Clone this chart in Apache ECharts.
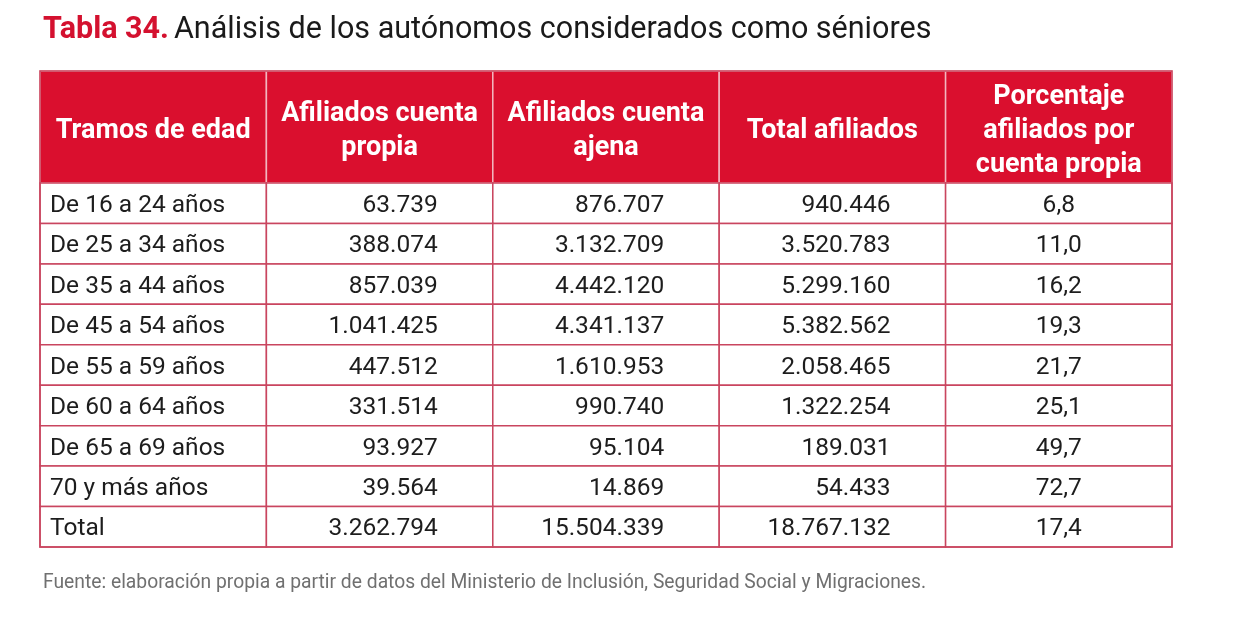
<!DOCTYPE html>
<html>
<head>
<meta charset="utf-8">
<script src="https://cdn.jsdelivr.net/npm/echarts@6/dist/echarts.min.js"></script>
<style>html,body{margin:0;padding:0;background:#fff}#c{width:1242px;height:621px}</style>
</head>
<body>
<div id="c"></div>
<script>
// ---- data ----
const headers = ["Tramos de edad", "Afiliados cuenta\npropia", "Afiliados cuenta\najena", "Total afiliados", "Porcentaje\nafiliados por\ncuenta propia"];
const ageGroups = ["De 16 a 24 años", "De 25 a 34 años", "De 35 a 44 años", "De 45 a 54 años", "De 55 a 59 años", "De 60 a 64 años", "De 65 a 69 años", "70 y más años", "Total"];
const cuentaPropia = [63739, 388074, 857039, 1041425, 447512, 331514, 93927, 39564, 3262794];
const cuentaAjena = [876707, 3132709, 4442120, 4341137, 1610953, 990740, 95104, 14869, 15504339];
const totalAfiliados = [940446, 3520783, 5299160, 5382562, 2058465, 1322254, 189031, 54433, 18767132];
const porcentajePropia = [6.8, 11.0, 16.2, 19.3, 21.7, 25.1, 49.7, 72.7, 17.4];

const titleBold = "Tabla 34.";
const titleRest = "Análisis de los autónomos considerados como séniores";
const sourceText = "Fuente: elaboración propia a partir de datos del Ministerio de Inclusión, Seguridad Social y Migraciones.";

// ---- helpers ----
const fmtInt = n => String(n).replace(/\B(?=(\d{3})+(?!\d))/g, ".");
const fmtPct = n => n.toFixed(1).replace(".", ",");

const HEADER_SPAN = 2.77; // header height measured in body-row units
const RED = "#da0f2e";
const BORDER = "#c9455f";
const FONT = "Roboto, 'DejaVu Sans', sans-serif";

const cells = [];
headers.forEach((h, c) => cells.push({ value: [c, -HEADER_SPAN, 0], text: h, kind: "head" }));
ageGroups.forEach((g, r) => {
  cells.push({ value: [0, r, r + 1], text: g, kind: "label" });
  cells.push({ value: [1, r, r + 1], text: fmtInt(cuentaPropia[r]), kind: "num" });
  cells.push({ value: [2, r, r + 1], text: fmtInt(cuentaAjena[r]), kind: "num" });
  cells.push({ value: [3, r, r + 1], text: fmtInt(totalAfiliados[r]), kind: "num" });
  cells.push({ value: [4, r, r + 1], text: fmtPct(porcentajePropia[r]), kind: "pct" });
});

function renderCell(params, api) {
  const item = cells[params.dataIndex];
  const c = api.value(0), t = api.value(1), b = api.value(2);
  const p0 = api.coord([c, t]);
  const p1 = api.coord([c, b]);
  const w = api.size([1, 0])[0];
  const x0 = p0[0] - w / 2, y0 = p0[1], h = p1[1] - p0[1];
  const head = item.kind === "head";
  let tx, align;
  if (item.kind === "label") { tx = x0 + 10; align = "left"; }
  else if (item.kind === "num") { tx = x0 + w - 55; align = "right"; }
  else { tx = x0 + w / 2; align = "center"; }
  return {
    type: "group",
    children: [
      {
        type: "rect",
        shape: { x: x0, y: y0, width: w, height: h },
        style: { fill: head ? RED : "#fff", stroke: head ? "#f2b6bf" : BORDER, lineWidth: 1.5 }
      },
      {
        type: "text",
        x: tx, y: y0 + h / 2 + (head ? 4 : 2.5),
        style: {
          text: item.text, align: align, verticalAlign: "middle",
          fill: head ? "#fff" : "#1d1d1d",
          fontFamily: FONT, fontWeight: head ? "bold" : "normal",
          fontSize: head ? 27 : 24.5, lineHeight: 34
        }
      }
    ]
  };
}

const chart = echarts.init(document.getElementById("c"), null, { renderer: "canvas" });
chart.setOption({
  backgroundColor: "#fff",
  animation: false,
  title: [
    {
      left: 38, top: 10,
      text: "{a|" + titleBold + "} {b|" + titleRest + "}",
      textStyle: {
        rich: {
          a: { fontFamily: FONT, fontWeight: "bold", fontSize: 30.5, color: "#d4112f" },
          b: { fontFamily: FONT, fontWeight: "normal", fontSize: 30.5, color: "#1a1a1a" }
        }
      }
    },
    {
      left: 38, top: 569,
      text: sourceText,
      textStyle: { fontFamily: FONT, fontWeight: "normal", fontSize: 19.3, color: "#707070" }
    }
  ],
  grid: { left: 40, right: 70, top: 71, bottom: 74 },
  xAxis: { type: "category", data: headers.map((_, i) => i), show: false, boundaryGap: true },
  yAxis: { type: "value", inverse: true, min: -HEADER_SPAN, max: ageGroups.length, show: false },
  series: [
    {
      type: "custom",
      renderItem: renderCell,
      encode: { x: 0, y: [1, 2] },
      data: cells.map(d => d.value),
      clip: false
    },
    {
      // outer frame of the table
      type: "custom",
      renderItem: function (params, api) {
        const a = api.coord([0, -HEADER_SPAN]);
        const b = api.coord([headers.length - 1, ageGroups.length]);
        const w = api.size([1, 0])[0];
        return {
          type: "rect",
          shape: { x: a[0] - w / 2, y: a[1], width: b[0] - a[0] + w, height: b[1] - a[1] },
          style: { fill: null, stroke: BORDER, lineWidth: 1.5 }
        };
      },
      data: [[0, 0]],
      silent: true
    }
  ]
});
</script>
</body>
</html>
